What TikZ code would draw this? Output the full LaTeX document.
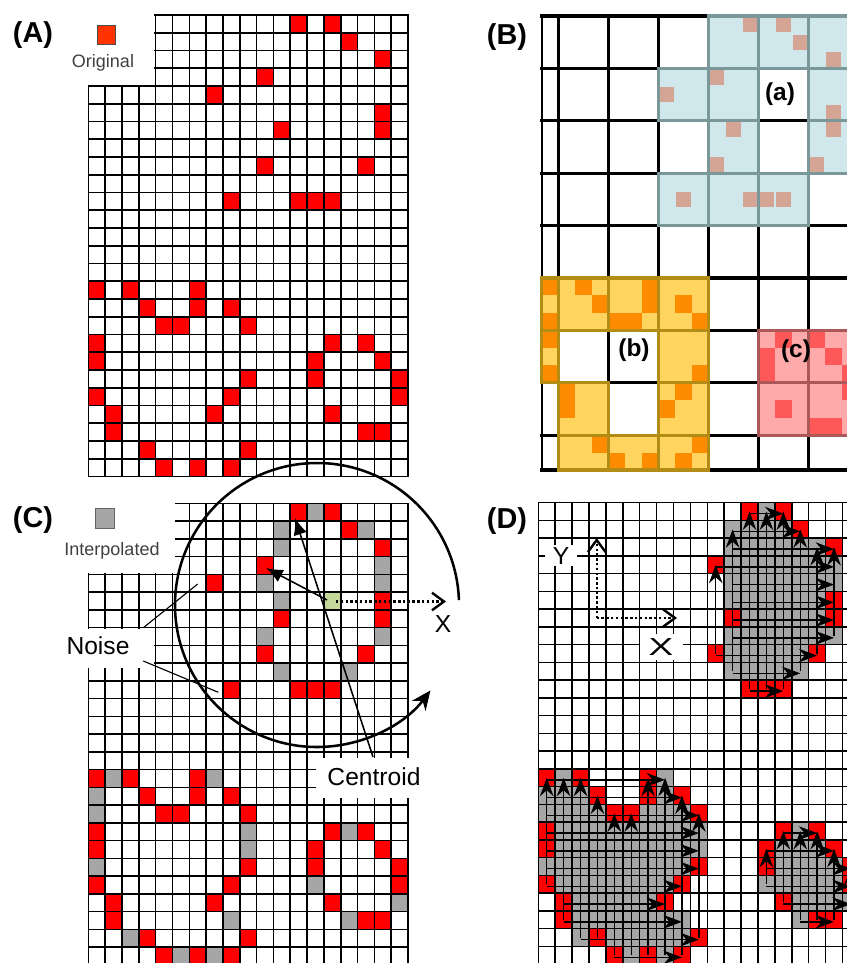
\documentclass[tikz,border=0pt]{standalone}
\usepackage{fontspec}
\setmainfont{Liberation Sans}
\usetikzlibrary{arrows.meta}

\definecolor{cellred}{RGB}{255,0,0}
\definecolor{legred}{RGB}{255,51,0}
\definecolor{cellgrey}{RGB}{166,166,166}
\definecolor{cengreen}{RGB}{196,215,155}
\definecolor{tintblue}{RGB}{208,232,236}
\definecolor{edgeblue}{RGB}{122,152,154}
\definecolor{dotblue}{RGB}{212,165,148}
\definecolor{tintyellow}{RGB}{255,213,96}
\definecolor{edgeyellow}{RGB}{178,140,20}
\definecolor{dotyellow}{RGB}{255,140,0}
\definecolor{tintpink}{RGB}{255,170,170}
\definecolor{edgepink}{RGB}{172,88,88}
\definecolor{dotpink}{RGB}{255,88,88}

% cells as column/row
\def\origcells{12/0,14/0,15/1,17/2,10/3,7/4,17/5,11/6,17/6,10/8,16/8,8/10,12/10,13/10,14/10,0/15,2/15,6/15,3/16,6/16,8/16,4/17,5/17,9/17,0/18,14/18,16/18,0/19,13/19,17/19,9/20,13/20,18/20,0/21,8/21,18/21,1/22,7/22,14/22,1/23,16/23,17/23,3/24,9/24,4/25,6/25,8/25}
\def\interpcells{13/0,11/1,16/1,11/2,17/3,10/4,17/4,11/5,10/7,17/7,11/9,15/9,1/15,7/15,0/16,0/17,9/18,15/18,9/19,0/20,13/21,18/22,8/23,15/23,2/24,5/25,7/25}
\def\bluecells{3/0,4/0,5/0,2/1,3/1,5/1,3/2,5/2,2/3,3/3,4/3}
\def\yellowcells{-1/5,0/5,1/5,2/5,-1/6,2/6,0/7,2/7,0/8,1/8,2/8}
\def\pinkcells{4/6,5/6,4/7,5/7}
\def\bluedots{12/0,14/0,15/1,17/2,10/3,7/4,17/5,11/6,17/6,10/8,16/8,8/10,12/10,13/10,14/10}
\def\yellowdots{0/15,0/17,0/18,0/20,2/15,3/16,6/15,6/16,4/17,5/17,8/16,9/17,9/20,1/21,1/22,8/21,7/22,3/24,4/25,6/25,9/24,8/25}
\def\pinkdots{14/18,13/19,13/20,16/18,17/19,18/20,18/21,14/22,16/23,17/23}
% filled regions as from/to/row
\def\fillspans{12/14/0,11/15/1,11/17/2,10/17/3,11/17/4,11/17/5,11/17/6,11/17/7,10/16/8,11/15/9,12/14/10,0/2/15,6/7/15,0/3/16,6/8/16,0/9/17,0/9/18,0/9/19,0/9/20,0/8/21,1/7/22,1/8/23,2/9/24,4/8/25,14/16/18,13/17/19,13/18/20,13/18/21,14/18/22,15/17/23}
\def\rowscans{12/14/0,11/15/1,11/17/2,10/17/3,11/17/4,11/17/5,11/17/6,11/17/7,10/16/8,11/15/9,12/14/10,0/7/15,0/8/16,0/9/17,0/9/18,0/9/19,0/9/20,0/8/21,1/7/22,1/8/23,2/9/24,4/8/25,14/16/18,13/17/19,13/18/20,13/18/21,14/18/22,15/17/23}
\def\colscans{10/8/3,11/9/1,12/10/0,13/10/0,14/10/0,15/9/1,16/8/2,17/7/2,0/21/15,1/23/15,2/24/15,3/24/16,4/25/17,5/25/17,6/25/15,7/25/15,8/25/16,9/24/17,13/21/19,14/22/18,15/23/18,16/23/18,17/23/19,18/22/20}
\def\blobred{12/0,14/0,15/1,17/2,10/3,17/5,11/6,17/6,10/8,16/8,12/10,13/10,14/10,0/15,2/15,6/15,3/16,6/16,8/16,4/17,5/17,9/17,0/18,0/19,9/20,0/21,8/21,1/22,7/22,1/23,3/24,9/24,4/25,6/25,8/25,14/18,16/18,13/19,17/19,13/20,18/20,18/21,14/22,16/23,17/23}

\begin{document}
\begin{tikzpicture}[x=0.025cm, y=-0.025cm,
  gridline/.style={line width=1.1pt, line cap=rect},
  bigline/.style={line width=2.3pt, line cap=rect},
  scan/.style={line width=1pt, -{Stealth[length=4.6mm, width=3.4mm, inset=1.5mm]}},
  pointer/.style={line width=1.1pt, -{Latex[length=4.2mm, width=3.4mm]}},
  ring/.style={line width=1.8pt, -{Stealth[length=4.8mm, width=4.2mm]}},
  axis/.style={line width=1.7pt, dash pattern=on 1.7pt off 1.7pt, -{Straight Barb[length=3mm, width=4.4mm]}},
  panel/.style={font=\fontsize{20.5}{24}\selectfont\bfseries},
  tag/.style={font=\fontsize{17.4}{20}\selectfont\bfseries},
  callout/.style={font=\fontsize{17.5}{20}\selectfont},
  legend/.style={font=\fontsize{12.8}{15}\selectfont, black!75}]
  \useasboundingbox (0,0) rectangle (847,963);
  \clip (0,0) rectangle (847,963);
  \fill[white] (0,0) rectangle (847,963);

  % (A)
  \foreach \c/\r in \origcells
    \fill[cellred] ({88.3+\c*16.83},{15+\r*17.75}) rectangle ++(16.83,17.75);
  \foreach \i in {0,...,19}
    \draw[gridline] ({88.3+\i*16.83},15) -- ++(0,461.5);
  \foreach \j in {0,...,26}
    \draw[gridline] (88.3,{15+\j*17.75}) -- ++(319.8,0);
  \fill[white] (60,5) rectangle (154.4,85.2);
  \draw[fill=legred, draw=black!70, line width=0.6pt] (97,25.5) rectangle (115.5,44);
  \node[legend] (orig) at (103,63) {Original};
  \node[panel] (pa) at (33,35) {(A)};

  % (B)
  \foreach \j/\k in \bluecells
    \fill[tintblue] ({max(541.7,558.3+50*\j)},{16+52.4*\k}) rectangle ({558.3+50*(\j+1)},{min(470,16+52.4*(\k+1))});
  \foreach \j/\k in \yellowcells
    \fill[tintyellow] ({max(541.7,558.3+50*\j)},{16+52.4*\k}) rectangle ({558.3+50*(\j+1)},{min(470,16+52.4*(\k+1))});
  \foreach \j/\k in \pinkcells
    \fill[tintpink] ({max(541.7,558.3+50*\j)},{16+52.4*\k}) rectangle ({558.3+50*(\j+1)},{min(470,16+52.4*(\k+1))});
  \foreach \c/\r in \bluedots
    \fill[dotblue] ({541.7+\c*16.667+1},{16+\r*17.467+1.2}) rectangle ++(14.6,15.2);
  \foreach \c/\r in \yellowdots
    \fill[dotyellow] ({541.7+\c*16.667},{16+\r*17.467}) rectangle ++(16.667,17.467);
  \foreach \c/\r in \pinkdots
    \fill[dotpink] ({541.7+\c*16.667},{16+\r*17.467}) rectangle ++(16.667,17.467);
  \foreach \j in {0,...,6}
    \draw[bigline] ({558.3+50*\j},16) -- ({558.3+50*\j},470);
  \foreach \k in {0,...,8}
    \draw[bigline] (541.7,{16+52.4*\k}) -- (862,{16+52.4*\k});
  \draw[bigline] (541.7,470) -- (862,470);
  \draw[line width=1.4pt] (541.7,16) -- (541.7,470);
  \foreach \j/\k in \bluecells
    \draw[edgeblue, line width=2.3pt] ({max(541.7,558.3+50*\j)},{16+52.4*\k}) rectangle ({558.3+50*(\j+1)},{min(470,16+52.4*(\k+1))});
  \foreach \j/\k in \yellowcells
    \draw[edgeyellow, line width=2.3pt] ({max(541.7,558.3+50*\j)},{16+52.4*\k}) rectangle ({558.3+50*(\j+1)},{min(470,16+52.4*(\k+1))});
  \foreach \j/\k in \pinkcells
    \draw[edgepink, line width=2.3pt] ({max(541.7,558.3+50*\j)},{16+52.4*\k}) rectangle ({558.3+50*(\j+1)},{min(470,16+52.4*(\k+1))});
  \node[tag] (ta) at (780,94) {(a)};
  \node[tag] (tb) at (634,350) {(b)};
  \node[tag] (tc) at (796,351) {(c)};
  \node[panel] (pb) at (507,37) {(B)};

  % (C)
  \foreach \c/\r in \origcells
    \fill[cellred] ({88.3+\c*16.83},{503.3+\r*17.75}) rectangle ++(16.83,17.75);
  \foreach \c/\r in \interpcells
    \fill[cellgrey] ({88.3+\c*16.83},{503.3+\r*17.75}) rectangle ++(16.83,17.75);
  \fill[cengreen] ({88.3+14*16.83},{503.3+5*17.75}) rectangle ++(16.83,17.75);
  \foreach \i in {0,...,19}
    \draw[gridline] ({88.3+\i*16.83},503.3) -- ++(0,461.5);
  \foreach \j in {0,...,26}
    \draw[gridline] (88.3,{503.3+\j*17.75}) -- ++(319.8,0);
  \fill[white] (60,495) rectangle (174.6,573.4);
  \fill[white] (60,628.6) rectangle (154,668);
  \fill[white] (316,757.5) rectangle (430,798);
  \draw[fill=cellgrey, draw=black!60, line width=0.6pt] (95.5,508.5) rectangle (114,528);
  \node[legend] (interp) at (112,551) {Interpolated};
  \node[panel] (pc) at (33,520) {(C)};
  \node[callout] (noise) at (98,646) {Noise};
  \node[callout] (centroid) at (374,777) {Centroid};
  \node[callout] (cx) at (443,624) {X};
  \coordinate (cen) at (327,600);
  \coordinate (near) at (266,568);
  \coordinate (far) at (295,518);
  \coordinate (foot) at (373,757);
  \coordinate (ring) at (317,605);
  \draw[line width=0.8pt] (143.3,627.7) -- (197.7,584);
  \draw[line width=0.8pt] (143.3,661) -- (218.3,692.3);
  \draw[pointer] (cen) -- (near);
  \draw[pointer] (foot) -- (far);
  \draw[axis] (336,601.5) -- (446,601.5);
  \draw[ring] (ring) ++(-2:142) arc[start angle=-2, end angle=-323, radius=142];

  % (D)
  \foreach \a/\b/\r in \fillspans
    \fill[cellgrey] ({538.3+\a*16.9},{502.7+\r*17.75}) rectangle ({538.3+(\b+1)*16.9},{502.7+(\r+1)*17.75});
  \foreach \c/\r in \blobred
    \fill[cellred] ({538.3+\c*16.9},{502.7+\r*17.75}) rectangle ++(16.9,17.75);
  \foreach \i in {0,...,19}
    \draw[gridline] ({538.3+\i*16.9},502.7) -- ++(0,461.5);
  \foreach \j in {0,...,26}
    \draw[gridline] (538.3,{502.7+\j*17.75}) -- ++(321.1,0);
  \foreach \a/\b/\r in \rowscans
    \draw[scan] ({538.3+(\a+.5)*16.9},{502.7+(\r+.5)*17.75+2}) -- ({538.3+(\b+.5)*16.9},{502.7+(\r+.5)*17.75+2});
  \foreach \c/\rb/\rt in \colscans
    \draw[scan] ({538.3+(\c+.5)*16.9},{502.7+(\rb+.5)*17.75}) -- ({538.3+(\c+.5)*16.9},{502.7+(\rt+.5)*17.75});
  \fill[white] (545,545) rectangle (577,566);
  \fill[white] (640,633.5) rectangle (683,660);
  \node[callout] (dy) at (561,556) {Y};
  \node[callout] (dx) at (661,647) {\scalebox{1.5}[1]{X}};
  \coordinate (orgn) at (596.7,618);
  \draw[axis] (orgn) -- (596.7,538);
  \draw[axis] (orgn) -- (677,618);
  \node[panel] (pd) at (507,521) {(D)};
\end{tikzpicture}
\end{document}
